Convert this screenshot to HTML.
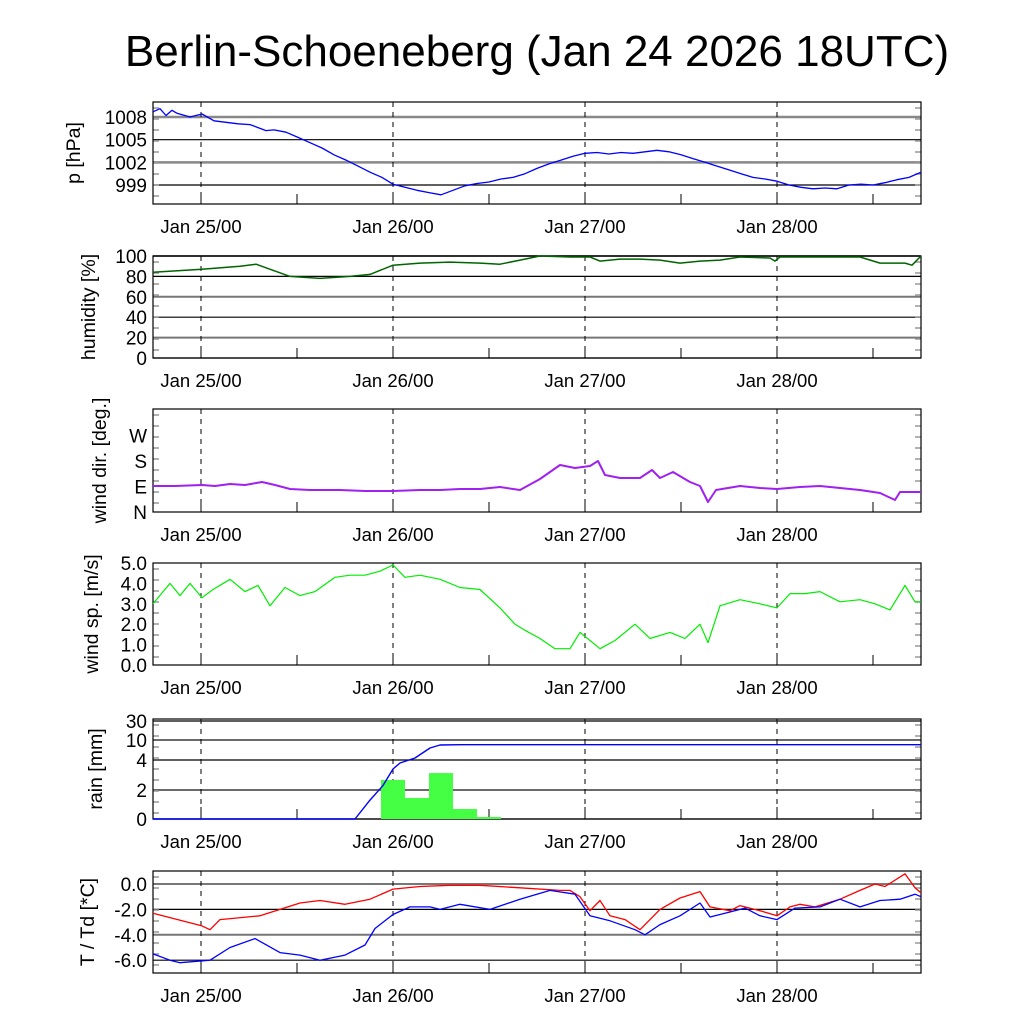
<!DOCTYPE html>
<html><head><meta charset="utf-8"><style>
html,body{margin:0;padding:0;background:#fff}
svg{display:block;font-family:"Liberation Sans",Arial,sans-serif}
</style></head><body>
<svg id="c" width="1024" height="1024" viewBox="0 0 1024 1024" xmlns="http://www.w3.org/2000/svg">
<text x="537" y="66" font-size="44" text-anchor="middle">Berlin-Schoeneberg (Jan 24 2026 18UTC)</text>
</svg>
<script>
// time axis: hours since Jan 24 18UTC (0..96)
const dayLabels = ["Jan 25/00","Jan 26/00","Jan 27/00","Jan 28/00"];
const dayHours = [6,30,54,78];
const noonHours = [18,42,66,90];

const presX = [153,160,166,172,177,190,202,214,226,238,250,258,266,274,286,298,310,322,334,346,358,370,382,393,405,417,429,441,453,465,477,489,501,513,525,537,549,561,573,585,597,609,621,633,645,657,669,681,693,705,717,729,741,753,765,777,789,801,813,825,837,849,861,873,885,897,909,921];
const presVal = [1008.7,1009.1,1008.2,1008.9,1008.5,1008,1008.4,1007.5,1007.3,1007.1,1007,1006.6,1006.2,1006.3,1006.0,1005.3,1004.6,1003.9,1003.0,1002.3,1001.5,1000.7,1000.0,999.1,998.7,998.3,998.0,997.7,998.3,998.9,999.2,999.4,999.8,1000,1000.5,1001.2,1001.8,1002.3,1002.8,1003.2,1003.3,1003.1,1003.3,1003.2,1003.4,1003.6,1003.4,1003,1002.5,1002,1001.5,1001,1000.5,1000,999.8,999.5,999.0,998.7,998.5,998.6,998.5,999,999.1,999,999.3,999.7,1000.0,1000.7];

const humX = [153,202,240,256,290,320,350,370,393,420,450,480,500,520,540,570,590,600,620,640,660,680,700,720,740,770,775,780,820,860,880,905,912,921];
const humVal = [84,87,90,92,80,78,80,82,91,93,94,93,92,96,100,99,99,95,97,97,96,93,95,96,99,98,95,99,99,99,93,93,91,100];

const dirX = [153,175,202,215,230,245,262,275,290,310,340,365,393,420,440,460,480,500,520,540,560,575,590,598,605,620,640,652,660,673,690,700,708,716,740,760,777,800,820,840,860,880,895,900,921];
const dirY = [486,486,485,486,484,485,482,485,489,490,490,491,491,490,490,489,489,487,490,479,465,468,466,461,475,478,478,470,478,472,482,486,502,490,486,488,489,487,486,488,490,493,500,492,492];
const dirVal = dirY.map(y => (512 - y) * 90 / 25.5);

const spdX = [153,170,180,190,202,213,230,245,258,270,285,300,315,335,350,365,380,393,405,420,440,460,480,500,515,525,540,555,570,580,600,615,635,650,670,685,700,708,720,740,760,777,790,805,820,840,860,875,890,905,915,921];
const spdVal = [3.0,4.0,3.4,4.0,3.3,3.7,4.2,3.6,3.9,2.9,3.8,3.4,3.6,4.3,4.4,4.4,4.6,4.9,4.3,4.4,4.2,3.8,3.7,2.8,2.0,1.7,1.3,0.8,0.8,1.6,0.8,1.2,2.0,1.3,1.6,1.3,2.0,1.1,2.9,3.2,3.0,2.8,3.5,3.5,3.6,3.1,3.2,3.0,2.7,3.9,3.1,3.1];

const rainBarHour = [30,33,36,39,42];
const rainBarVal = [2.67,1.45,3.13,0.69,0.14];
const rainSumX = [153,355,370,383,393,400,415,430,440,460,921];
const rainSumVal = [0,0,1.3,2.3,3.4,3.8,4.6,7.6,8.5,8.6,8.6];

const tX = [153,202,210,220,260,300,320,345,370,393,420,450,480,520,560,570,580,590,600,610,625,640,660,680,700,710,730,740,760,777,790,800,815,840,860,875,885,905,915,921];
const tVal = [-2.3,-3.3,-3.6,-2.8,-2.5,-1.5,-1.3,-1.6,-1.2,-0.4,-0.2,-0.1,-0.1,-0.3,-0.5,-0.5,-1.0,-2.1,-1.3,-2.5,-2.8,-3.6,-2.0,-1.1,-0.6,-1.8,-2.1,-1.7,-2.1,-2.5,-1.8,-1.6,-1.8,-1.2,-0.5,0.0,-0.2,0.8,-0.3,-0.7];
const tdX = [153,170,180,210,230,255,280,300,320,345,365,375,393,410,430,440,460,490,520,550,575,590,610,635,645,660,680,700,710,725,745,760,777,795,820,840,860,880,900,915,921];
const tdVal = [-5.5,-6.0,-6.2,-6.0,-5.0,-4.3,-5.4,-5.6,-6.0,-5.6,-4.8,-3.5,-2.4,-1.8,-1.8,-2.0,-1.6,-2.0,-1.2,-0.5,-0.8,-2.5,-2.9,-3.6,-4.0,-3.2,-2.5,-1.5,-2.6,-2.3,-1.9,-2.5,-2.8,-1.9,-1.8,-1.2,-1.8,-1.3,-1.2,-0.8,-1.0];

const L = 153, R = 921;
const xH = h => L + h * (R - L) / 96;
const NS = "http://www.w3.org/2000/svg";
const svg = document.getElementById('c');
function mk(tag, attrs, parent){ const e = document.createElementNS(NS, tag); for (const k in attrs) e.setAttribute(k, attrs[k]); (parent||svg).appendChild(e); return e; }

function panel(name, top, bot, yfn, ticks, gridStyles, ylabel, labelY){
  const g = mk('g', {});
  
  
  ticks.forEach((t, i) => {
    const y = yfn(t.v);
    const st = gridStyles[i % gridStyles.length];
    const ln = mk('line', {x1:L, x2:R, y1:y, y2:y, stroke:st[0], 'stroke-width':st[1]}, g);
    
    
    const tx = mk('text', {x:147, y:y + 7, 'font-size':19, 'text-anchor':'end'}, g);
    tx.textContent = t.l;
    
    
  });
  for (let y = top + 6; y < bot; y += 11) {
    mk('line', {x1:L, x2:L+6, y1:y, y2:y, stroke:'#999', 'stroke-width':1.5}, g);
    mk('line', {x1:R-6, x2:R, y1:y, y2:y, stroke:'#999', 'stroke-width':1.5}, g);
  }
  dayHours.forEach((h, i) => {
    const x = xH(h);
    const d = mk('line', {x1:x, x2:x, y1:top, y2:bot, stroke:'#000', 'stroke-width':1, 'stroke-dasharray':'5,5'}, g);
    
    
    mk('line', {x1:x, x2:x, y1:bot-12, y2:bot, stroke:'#000', 'stroke-width':1}, g);
    const t = mk('text', {x:x, y:bot + 29, 'font-size':18.5, 'text-anchor':'middle'}, g);
    t.textContent = dayLabels[i];
    
    
  });
  noonHours.forEach(h => { const x = xH(h); mk('line', {x1:x, x2:x, y1:bot-10, y2:bot, stroke:'#000', 'stroke-width':1}, g); });
  const fr = mk('rect', {x:L, y:top, width:R-L, height:bot-top, fill:'none', stroke:'#000', 'stroke-width':1.2}, g);
  
  
  const yl = mk('text', {x:0, y:0, 'font-size':19.5, 'text-anchor':'middle', transform:`translate(${labelY},${(top+bot)/2}) rotate(-90)`}, g);
  yl.textContent = ylabel;
  
  
  return g;
}
function line(g, xs, vals, yfn, color, w, name){
  const d = xs.map((x, i) => (i ? 'L' : 'M') + x + ',' + yfn(vals[i]).toFixed(1)).join(' ');
  const p = mk('path', {d:d, fill:'none', stroke:color, 'stroke-width':w, 'stroke-linejoin':'round'}, g);
  
  
}

const yP = v => 185 - (v - 999) * 7.55;
let g = panel('pressure', 102, 204, yP, [{v:1008,l:'1008'},{v:1005,l:'1005'},{v:1002,l:'1002'},{v:999,l:'999'}], [['#888',2.5],['#000',1.2]], 'p [hPa]', 80);
line(g, presX, presVal, yP, '#0000ff', 1.3, 'pressure-line');

const yHu = v => 358 - v * 1.02;
g = panel('humidity', 256, 358, yHu, [{v:100,l:'100'},{v:80,l:'80'},{v:60,l:'60'},{v:40,l:'40'},{v:20,l:'20'},{v:0,l:'0'}], [['#777',2],['#000',1.2]], 'humidity [%]', 95);
line(g, humX, humVal, yHu, '#006400', 1.5, 'humidity-line');

const yD = v => 512 - v * 25.5 / 90;
g = panel('wind-direction', 409, 512, yD, [{v:270,l:'W'},{v:180,l:'S'},{v:90,l:'E'},{v:0,l:'N'}], [['#fff',0]], 'wind dir. [deg.]', 106);
line(g, dirX, dirVal, yD, '#a020f0', 2, 'wind-direction-line');

const yS = v => 665 - v * 20.4;
g = panel('wind-speed', 563, 665, yS, [{v:5,l:'5.0'},{v:4,l:'4.0'},{v:3,l:'3.0'},{v:2,l:'2.0'},{v:1,l:'1.0'},{v:0,l:'0.0'}], [['#fff',0]], 'wind sp. [m/s]', 98);
line(g, spdX, spdVal, yS, '#00ee00', 1.2, 'wind-speed-line');

const rk = [0,2,4,10,30], ry = [819,790,760,740,721];
const yR = v => { for (let i = 1; i < rk.length; i++) if (v <= rk[i]) return ry[i-1] + (v - rk[i-1]) / (rk[i] - rk[i-1]) * (ry[i] - ry[i-1]); return ry[ry.length-1]; };
g = panel('rain', 719, 819, yR, [{v:30,l:'30'},{v:10,l:'10'},{v:4,l:'4'},{v:2,l:'2'},{v:0,l:'0'}], [['#000',1.2],['#555',1.8]], 'rain [mm]', 102);
rainBarHour.forEach((h, i) => {
  const x0 = xH(h - 1.5), x1 = xH(h + 1.5), y = yR(rainBarVal[i]);
  const b = mk('rect', {x:x0, y:y, width:x1 - x0, height:819 - y, fill:'#44ff44'}, g);
  
  
});
line(g, rainSumX, rainSumVal, yR, '#0000ff', 1.4, 'rain-sum-line');

const yT = v => 884 - v * 12.7;
g = panel('temperature', 871, 973, yT, [{v:0,l:'0.0'},{v:-2,l:'-2.0'},{v:-4,l:'-4.0'},{v:-6,l:'-6.0'}], [['#777',2],['#000',1.2]], 'T / Td [*C]', 94);
line(g, tX, tVal, yT, '#ff0000', 1.3, 'temperature-line');
line(g, tdX, tdVal, yT, '#0000ff', 1.3, 'dewpoint-line');
</script>
</body></html>
